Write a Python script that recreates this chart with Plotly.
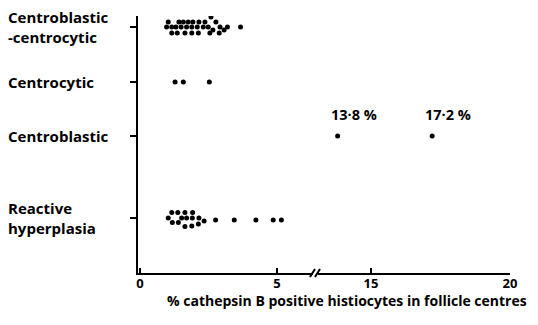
import plotly.graph_objects as go

# ---- data ----
categories = ["Centroblastic<br>-centrocytic", "Centrocytic", "Centroblastic", "Reactive<br>hyperplasia"]

cbcc_values = [1.03, 1.42, 1.58, 1.76, 1.93, 2.15, 2.37, 2.77,
               2.59,
               0.97, 1.16, 1.31, 1.50, 1.70, 1.89, 2.09, 2.31, 2.49, 2.92, 3.19, 3.67,
               1.16, 1.36, 1.64, 1.89, 2.13, 2.55, 2.89,
               2.66, 3.07]
cbcc_jitter = [-5, -5, -5, -5, -5, -5, -5, -5,
               -10,
               0, 0, 0, 0, 0, 0, 0, 0, 0, 0, 0, 0,
               6, 6, 6, 6, 6, 6, 6,
               3, 3]

cc_values = [1.28, 1.58, 2.53]
cc_jitter = [0, 0, 0]

cb_values = [13.8, 17.2]
cb_jitter = [0, 0]
cb_labels = ["13·8 %", "17·2 %"]

rh_values = [1.16, 1.38, 1.64, 1.92,
             1.03, 1.52, 1.70, 1.91, 2.15,
             2.76, 3.44, 4.23, 4.86, 5.16,
             1.18, 1.40,
             1.64, 1.89, 2.13, 2.34]
rh_jitter = [-5.5, -5.5, -5.5, -5.5,
             0, 0, 0, 0, 0,
             2, 2, 2, 2, 2,
             4.5, 4.5,
             8.5, 8, 6, 3]

x_ticks_left = [0, 5]
x_ticks_right = [15, 20]
x_title = "% cathepsin B positive histiocytes in follicle centres"

# ---- layout constants ----
cat_pos = [246, 191, 137, 55]
FONT = "Open Sans"

fig = go.Figure()

def add_series(vals, jit, ypos, axis):
    fig.add_trace(go.Scatter(
        x=vals, y=[ypos - j for j in jit], mode="markers",
        marker=dict(color="black", size=5, line=dict(width=0)),
        xaxis=axis, yaxis="y", showlegend=False, hoverinfo="x"))

add_series(cbcc_values, cbcc_jitter, cat_pos[0], "x")
add_series(cc_values, cc_jitter, cat_pos[1], "x")
add_series(cb_values, cb_jitter, cat_pos[2], "x2")
add_series(rh_values, rh_jitter, cat_pos[3], "x")

# page body has an 8px margin; figure is offset by it
OFF = 8
W, H = 538 - OFF, 325 - OFF
L, T = 138 - OFF, 16 - OFF
R = W - (510 - OFF)
B = H - (273 - OFF)
pw = W - L - R
ph = H - T - B

def px_x(p):  # page px -> paper x
    return (p - OFF - L) / pw

def px_y(p):  # page px -> paper y
    return (H - B - (p - OFF)) / ph

d1_end = px_x(313)
d2_start = px_x(318)

axis_common = dict(showgrid=False, zeroline=False, showline=True, linecolor="black",
                   linewidth=2, ticks="inside", ticklen=5, tickwidth=2, tickcolor="black",
                   automargin=False, ticklabelstandoff=-3,
                   tickfont=dict(family=FONT, size=13, color="black", weight="bold"))

fig.update_layout(
    template="none",
    width=W, height=H,
    margin=dict(l=L, r=R, t=T, b=B, autoexpand=False),
    paper_bgcolor="white", plot_bgcolor="white",
    xaxis=dict(domain=[0, d1_end], range=[-0.073, (313 - 140) / 27.4],
               tickvals=x_ticks_left, ticktext=[str(v) for v in x_ticks_left],
               anchor="y", **axis_common),
    xaxis2=dict(domain=[d2_start, 1], range=[15 - (371 - 318) / 27.8, 20],
                tickvals=x_ticks_right, ticktext=[str(v) for v in x_ticks_right],
                anchor="y", **axis_common),
    yaxis=dict(range=[0, 257], showgrid=False, zeroline=False, showline=True,
               linecolor="black", linewidth=2, ticks="outside", ticklen=6, tickwidth=2,
               tickcolor="black", tickvals=cat_pos, showticklabels=False, anchor="x",
               automargin=False),
)

# category labels, left aligned
for lab, yp in zip(categories, cat_pos):
    fig.add_annotation(text=lab, xref="paper", yref="y", x=px_x(6), y=yp,
                       xanchor="left", yanchor="middle", align="left", showarrow=False,
                       font=dict(family=FONT, size=15, color="black", weight="bold"))

# value labels for centroblastic outliers
for v, lab in zip(cb_values, cb_labels):
    fig.add_annotation(text=lab, xref="x2", yref="y", x=v, y=cat_pos[2] + 22,
                       xanchor="left", yanchor="middle", xshift=-9, showarrow=False,
                       font=dict(family=FONT, size=14.5, color="black", weight="bold"))

# x axis title
fig.add_annotation(text=x_title, xref="paper", yref="paper", x=px_x(347),
                   y=px_y(300), xanchor="center", yanchor="middle", showarrow=False,
                   font=dict(family=FONT, size=14, color="black", weight="bold"))

# axis break marks
for x0 in (310, 315):
    fig.add_shape(type="line", xref="paper", yref="paper",
                  x0=px_x(x0), y0=px_y(277), x1=px_x(x0 + 5), y1=px_y(269),
                  line=dict(color="black", width=2))

fig.write_html("out.html")
